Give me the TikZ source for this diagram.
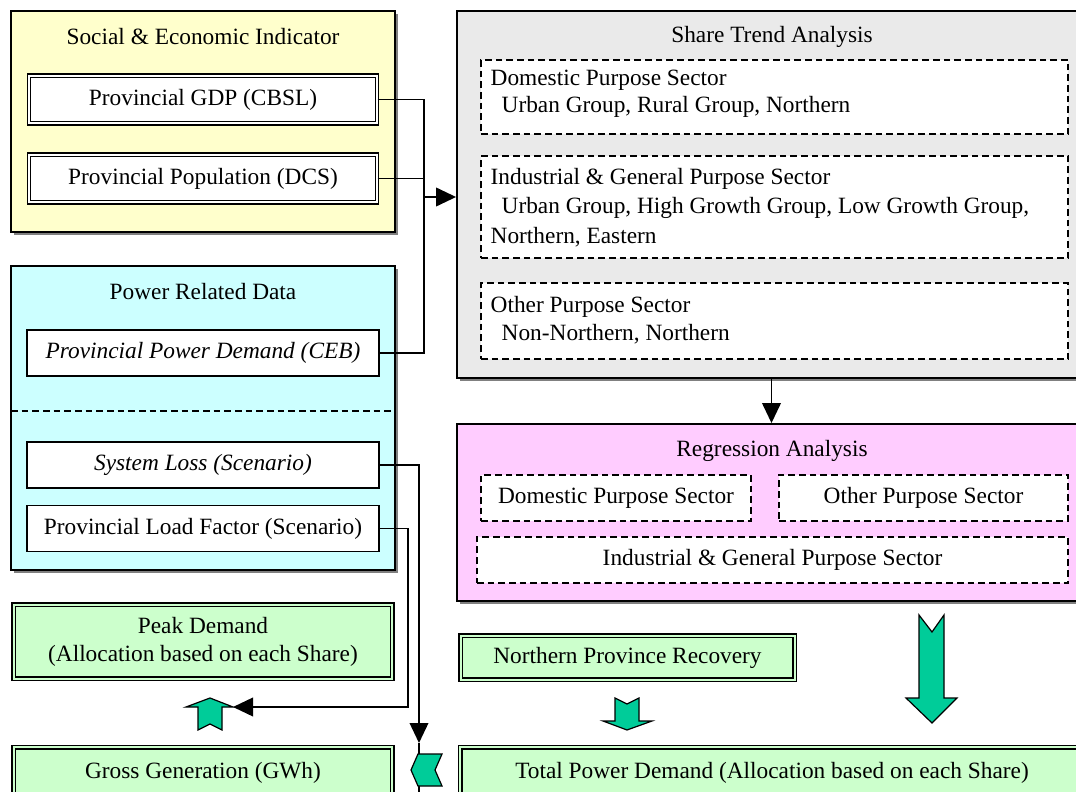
\documentclass[tikz,border=0pt]{standalone}
\usepackage{fontspec}
\setmainfont{Liberation Serif}
\usetikzlibrary{arrows.meta,shadows}

\definecolor{indyellow}{RGB}{255,255,204}
\definecolor{powblue}{RGB}{204,255,255}
\definecolor{sharegray}{RGB}{234,234,234}
\definecolor{regpink}{RGB}{255,204,255}
\definecolor{outgreen}{RGB}{204,255,204}
\definecolor{blockteal}{RGB}{0,204,153}

\begin{document}
\begin{tikzpicture}[x=0.75pt,y=0.75pt,yscale=-1,xscale=1,
  font=\fontsize{17.5}{21}\selectfont,
  panel/.style={draw, line width=1.4pt, inner sep=0pt,
    drop shadow={shadow xshift=2.2pt, shadow yshift=-2.2pt, fill=black!50, opacity=1}},
  dblbox/.style={draw, line width=1.1pt, double distance=1.5pt, inner sep=0pt},
  plainbox/.style={draw, line width=1.2pt, fill=white, inner sep=0pt},
  dashbox/.style={draw, line width=1.2pt, dash pattern=on 5pt off 3pt, fill=white, inner sep=0pt},
  greenbox/.style={dblbox, double=outgreen, fill=outgreen,
    drop shadow={shadow xshift=2.2pt, shadow yshift=-2.2pt, fill=black!50, opacity=1}},
  conn/.style={line width=1.2pt},
  arr/.style={conn, -{Triangle[length=15pt,width=14pt]}},
  blockarrow/.style={fill=blockteal, draw=black, line width=0.9pt, line join=miter}]

%set diagram to the size of the reference
\useasboundingbox (0,0) rectangle (1076,792);
\clip (0,0) rectangle (1076,792);
\fill[white] (0,0) rectangle (1076,792);

%Shape: Rectangle -- social & economic indicator
\node[panel, fill=indyellow, minimum width=288pt, minimum height=165.75pt] (indic) at (203,121.5) {};
% Text Node
\node (indictitle) at (203,37) {Social \& Economic Indicator};
\node[dblbox, double=white, fill=white, minimum width=261pt, minimum height=35.5pt] (gdp) at (203,99.5) {Provincial GDP (CBSL)};
\node[dblbox, double=white, fill=white, minimum width=261pt, minimum height=35.5pt] (pop) at (203,178.5) {Provincial Population (DCS)};

%Shape: Rectangle -- power related data
\node[panel, fill=powblue, minimum width=288pt, minimum height=228pt] (power) at (203,418) {};
% Text Node
\node (powertitle) at (203,292) {Power Related Data};
\node[plainbox, minimum width=264pt, minimum height=34.5pt] (ceb) at (203,353) {\itshape Provincial Power Demand (CEB)};
%Straight Lines -- divider
\draw[line width=1.2pt, dash pattern=on 5pt off 3pt] (11,411) -- (395,411);
\node[plainbox, minimum width=264pt, minimum height=34.5pt] (sysloss) at (203,465) {\itshape System Loss (Scenario)};
\node[plainbox, minimum width=264pt, minimum height=34.5pt] (loadf) at (203,528.5) {Provincial Load Factor (Scenario)};

%Shape: Rectangle -- share trend analysis
\node[panel, fill=sharegray, minimum width=471.75pt, minimum height=275.25pt] (share) at (771.5,194.5) {};
% Text Node
\node (sharetitle) at (772,37) {Share Trend Analysis};
\node[dashbox, minimum width=440.25pt, minimum height=55.5pt] (shdom) at (774.5,97) {};
\node[anchor=west] (shdoma) at (486,80) {Domestic Purpose Sector};
\node[anchor=west] (shdomb) at (497,107) {Urban Group, Rural Group, Northern};
\node[dashbox, minimum width=440.25pt, minimum height=76.5pt] (shind) at (774.5,207) {};
\node[anchor=west] (shinda) at (486,179) {Industrial \& General Purpose Sector};
\node[anchor=west] (shindb) at (497,208) {Urban Group, High Growth Group, Low Growth Group,};
\node[anchor=west] (shindc) at (486,237) {Northern, Eastern};
\node[dashbox, minimum width=440.25pt, minimum height=57pt] (shoth) at (774.5,321) {};
\node[anchor=west] (shotha) at (486,307) {Other Purpose Sector};
\node[anchor=west] (shothb) at (497,334) {Non-Northern, Northern};

%Shape: Rectangle -- regression analysis
\node[panel, fill=regpink, minimum width=471.75pt, minimum height=132.75pt] (regr) at (771.5,512.5) {};
% Text Node
\node (regrtitle) at (772,451) {Regression Analysis};
\node[dashbox, minimum width=202.5pt, minimum height=34.5pt] (rgdom) at (616,498) {Domestic Purpose Sector};
\node[dashbox, minimum width=216.75pt, minimum height=34.5pt] (rgoth) at (923.5,498) {Other Purpose Sector};
\node[dashbox, minimum width=443.25pt, minimum height=34.5pt] (rgind) at (772.5,560) {Industrial \& General Purpose Sector};

%Shape: Rectangle -- results
\node[greenbox, align=center, minimum width=284pt, minimum height=55.5pt] (peak) at (203,641.5) {Peak Demand\\(Allocation based on each Share)};
\node[greenbox, minimum width=284pt, minimum height=38.5pt] (gross) at (203,773) {Gross Generation (GWh)};
\node[greenbox, minimum width=250.5pt, minimum height=33pt] (north) at (627.5,657.5) {Northern Province Recovery};
\node[greenbox, minimum width=467.5pt, minimum height=38.5pt] (total) at (772,773) {Total Power Demand (Allocation based on each Share)};

%Straight Lines -- connectors
\coordinate (jct) at (424,197);
\coordinate (lfx) at (408,0);
\coordinate (pktip) at (233,707);
\coordinate (ggtip) at (419,743);
\coordinate (ggend) at (419,800);
\draw[conn] (gdp.east) -| (jct) |- (ceb.east);
\draw[conn] (pop.east) -- (pop.east -| jct);
\draw[arr] (jct) -- (share.west |- jct);
\draw[arr] (share.south) -- (regr.north);
\draw[arr] (loadf.east) -- (loadf.east -| lfx) |- (pktip);
\draw[arr] (sysloss.east) -| (ggtip);
\draw[conn] (ggtip) -- (ggend);

%Shape: Block Arrows
\draw[blockarrow] (919,615) -- (932,632) -- (944,615) -- (944,698) -- (957,698) -- (932,723) -- (906,698) -- (919,698) -- cycle ;
\draw[blockarrow] (615,698) -- (627,704) -- (639,698) -- (639,721) -- (652,721) -- (627,730) -- (603,721) -- (615,721) -- cycle ;
\draw[blockarrow] (198,730) -- (210,724) -- (222,730) -- (222,707) -- (233,707) -- (210,698) -- (186,707) -- (198,707) -- cycle ;
\draw[blockarrow] (442,754) -- (435,770) -- (442,786) -- (418,786) -- (411,770) -- (418,754) -- cycle ;

\end{tikzpicture}
\end{document}
